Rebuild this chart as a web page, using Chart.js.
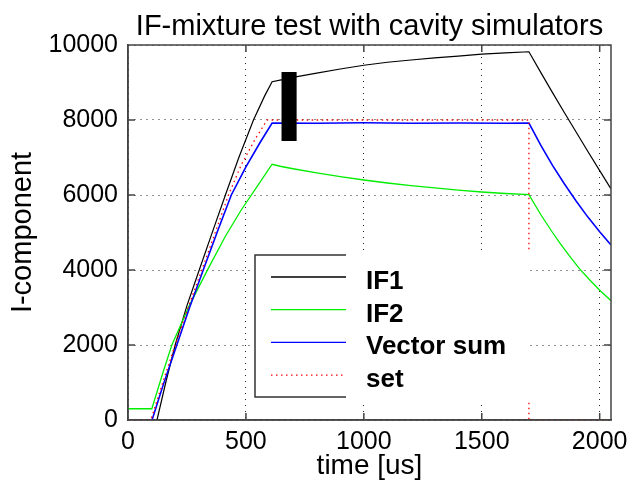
<!DOCTYPE html>
<html>
<head>
<meta charset="utf-8">
<script src="https://cdn.jsdelivr.net/npm/chart.js@4.4.0/dist/chart.umd.min.js"></script>
<style>
    html, body { margin: 0; padding: 0; background: #fff; }
    #wrap { width: 627px; height: 498px; }
</style>
</head>
<body>
<div id="wrap"><canvas id="grafica" width="627" height="498"></canvas></div>
<script>
const seriesNames = ["IF1", "IF2", "Vector sum", "set"];
const xTicks = [0, 500, 1000, 1500, 2000];
const yTicks = [0, 2000, 4000, 6000, 8000, 10000];

// IF1 (black)
const tIF1 = [0, 106, 123, 160, 200, 250, 302, 360, 413, 470, 532, 580, 611, 650, 711, 800, 900, 1000, 1100, 1200, 1300, 1400, 1500, 1600, 1700, 1750, 1800, 1850, 1900, 1950, 2000, 2048];
const vIF1 = [-400, -400, 0, 1000, 2000, 3050, 4000, 5050, 6000, 7000, 8000, 8650, 9020, 9070, 9150, 9250, 9360, 9460, 9540, 9600, 9655, 9705, 9755, 9790, 9820, 9270, 8730, 8200, 7680, 7160, 6650, 6160];

// IF2 (green)
const tIF2 = [0, 101, 150, 186, 260, 341, 413, 480, 550, 611, 650, 700, 800, 900, 1000, 1100, 1200, 1300, 1400, 1500, 1600, 1700, 1750, 1800, 1830, 1870, 1915, 1960, 2000, 2048];
const vIF2 = [300, 300, 1300, 2000, 3050, 4050, 4900, 5600, 6250, 6820, 6760, 6700, 6590, 6490, 6400, 6320, 6250, 6190, 6130, 6080, 6040, 6010, 5480, 5000, 4730, 4390, 4030, 3720, 3460, 3180];

// Vector sum (blue)
const tVec = [0, 95, 102, 150, 207, 260, 319, 380, 438, 500, 560, 611, 800, 1000, 1200, 1400, 1600, 1700, 1750, 1800, 1850, 1900, 1950, 2000, 2048];
const vVec = [-300, -300, 0, 950, 2000, 2980, 4000, 5040, 6000, 6750, 7400, 7920, 7915, 7925, 7915, 7920, 7915, 7920, 7330, 6790, 6300, 5840, 5410, 5020, 4670];

// set (red dotted)
const tSet = [0, 97, 150, 200, 255, 313, 370, 426, 480, 540, 590, 1700, 1700, 2048];
const vSet = [0, 0, 1050, 2000, 3000, 4000, 5000, 6000, 6800, 7500, 8000, 8000, 0, 0];

// black patch over the plot (time range, value range)
const tapaT = [651, 715];
const tapaV = [7440, 9280];

const colores = ["#000000", "#00ee00", "#0000ff", "#ff0000"];

function puntos(ts, vs) {
    return ts.map((t, i) => ({ x: t, y: vs[i] }));
}

const fuente = "'Liberation Sans', Arial, sans-serif";

const marcoPlugin = {
    id: "marco",
    afterDatasetsDraw(chart) {
        const { ctx, chartArea: a, scales: { x, y } } = chart;
        ctx.save();
        // black patch
        const x0 = x.getPixelForValue(tapaT[0]);
        const x1 = x.getPixelForValue(tapaT[1]);
        const y0 = y.getPixelForValue(tapaV[1]);
        const y1 = y.getPixelForValue(tapaV[0]);
        ctx.fillStyle = "#000";
        ctx.fillRect(x0, y0, x1 - x0, y1 - y0);

        // legend
        const lx = a.left + 127, ly = a.top + 210, lw = 91, lh = 142;
        ctx.fillStyle = "#fff";
        ctx.fillRect(lx - 3, ly - 5, 278, 152);
        ctx.strokeStyle = "#333";
        ctx.lineWidth = 1.5;
        ctx.beginPath();
        ctx.moveTo(lx + lw, ly);
        ctx.lineTo(lx, ly);
        ctx.lineTo(lx, ly + lh);
        ctx.lineTo(lx + lw, ly + lh);
        ctx.stroke();
        chart.data.datasets.forEach((ds, i) => {
            const yy = ly + 22 + i * 32.7;
            ctx.strokeStyle = ds.borderColor;
            ctx.lineWidth = 1.3;
            ctx.setLineDash(ds.borderDash || []);
            ctx.beginPath();
            ctx.moveTo(lx + 16, yy);
            ctx.lineTo(lx + lw, yy);
            ctx.stroke();
            ctx.setLineDash([]);
            ctx.fillStyle = "#000";
            ctx.font = "bold 26px " + fuente;
            ctx.textBaseline = "alphabetic";
            ctx.fillText(ds.label, lx + 111, yy + 12);
        });
        ctx.restore();
    },
    afterDraw(chart) {
        const { ctx, chartArea: a, scales: { x, y } } = chart;
        ctx.save();
        ctx.strokeStyle = "#444";
        ctx.lineWidth = 1.5;
        ctx.strokeRect(a.left, a.top, a.right - a.left, a.bottom - a.top);
        ctx.beginPath();
        xTicks.forEach((v) => {
            if (v <= 0) return;
            const px = x.getPixelForValue(v);
            ctx.moveTo(px, a.bottom); ctx.lineTo(px, a.bottom - 7);
            ctx.moveTo(px, a.top); ctx.lineTo(px, a.top + 7);
        });
        yTicks.forEach((v) => {
            if (v <= 0 || v >= 10000) return;
            const py = y.getPixelForValue(v);
            ctx.moveTo(a.left, py); ctx.lineTo(a.left + 7, py);
            ctx.moveTo(a.right, py); ctx.lineTo(a.right - 7, py);
        });
        ctx.stroke();
        ctx.restore();
    },
};

new Chart(document.getElementById("grafica"), {
    type: "line",
    data: {
        datasets: [
            { label: seriesNames[0], data: puntos(tIF1, vIF1), borderColor: colores[0], borderWidth: 1.2, order: 4 },
            { label: seriesNames[1], data: puntos(tIF2, vIF2), borderColor: colores[1], borderWidth: 1.3, order: 3 },
            { label: seriesNames[2], data: puntos(tVec, vVec), borderColor: colores[2], borderWidth: 1.6, order: 2 },
            { label: seriesNames[3], data: puntos(tSet, vSet), borderColor: colores[3], borderWidth: 1.3, borderDash: [1.5, 3.5], order: 1 },
        ],
    },
    options: {
        responsive: false,
        animation: false,
        events: [],
        elements: { point: { radius: 0 }, line: { tension: 0, fill: false } },
        layout: { padding: { left: 0, right: 16, top: 0, bottom: 0 } },
        scales: {
            x: {
                type: "linear",
                min: 0,
                max: 2048,
                afterBuildTicks: (s) => { s.ticks = xTicks.map((v) => ({ value: v })); },
                afterFit: (s) => { s.height = 78; s.paddingLeft = 0; s.paddingRight = 0; },
                ticks: { color: "#000", padding: 7, maxRotation: 0, callback: (v) => String(v), font: { family: fuente, size: 25 } },
                grid: { color: "#222", drawTicks: false, lineWidth: 1 },
                border: { display: true, color: "#444", width: 1.5, dash: [1, 5] },
                title: { display: true, text: "time [us]", color: "#000", font: { family: fuente, size: 28 }, padding: { top: 0, bottom: 15 } },
            },
            y: {
                min: 0,
                max: 10000,
                afterBuildTicks: (s) => { s.ticks = yTicks.map((v) => ({ value: v })); },
                afterFit: (s) => { s.width = 128; s.paddingTop = 0; s.paddingBottom = 0; },
                ticks: { color: "#000", padding: 10, callback: (v) => String(v), font: { family: fuente, size: 25 } },
                grid: { color: "#222", drawTicks: false, lineWidth: 1 },
                border: { display: true, color: "#444", width: 1.5, dash: [1, 5] },
                title: { display: true, text: "I-component", color: "#000", font: { family: fuente, size: 29 }, padding: { top: 6, bottom: 0 } },
            },
        },
        plugins: {
            legend: { display: false },
            tooltip: { enabled: false },
            title: {
                display: true,
                text: "IF-mixture test with cavity simulators",
                color: "#000",
                fullSize: false,
                font: { family: fuente, size: 29, weight: "normal" },
                padding: { top: 10, bottom: 0.2 },
            },
        },
    },
    plugins: [marcoPlugin],
});
</script>
</body>
</html>
